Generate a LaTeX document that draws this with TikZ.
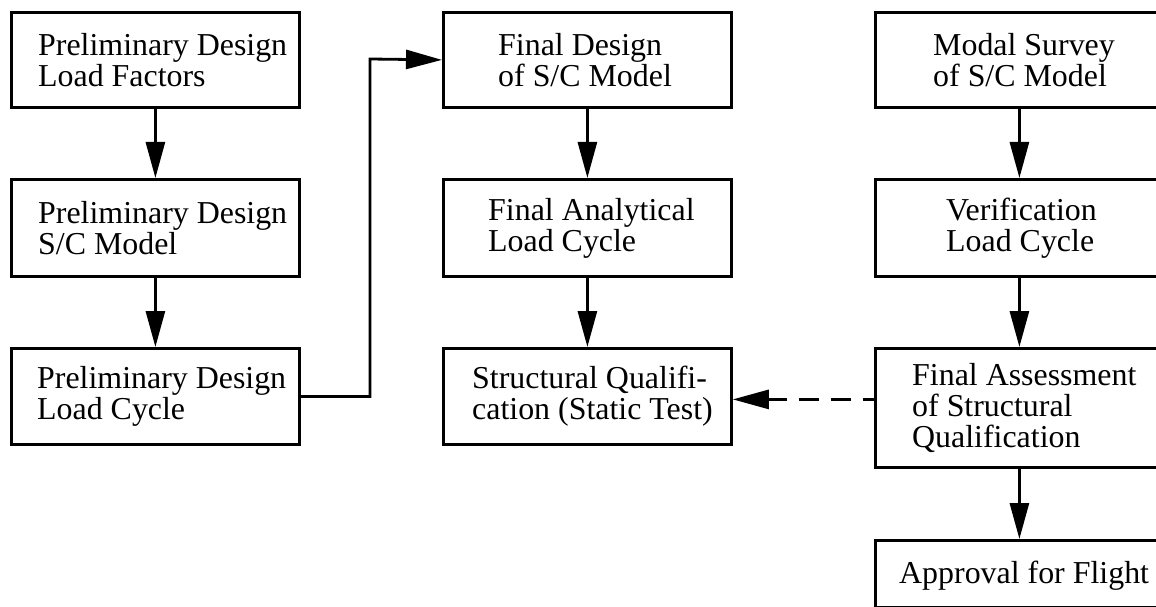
\documentclass[tikz,border=0pt]{standalone}
\usepackage{fontspec}
\setmainfont{Liberation Serif}
\usetikzlibrary{arrows.meta,calc}
\begin{document}
\begin{tikzpicture}[x=1pt,y=-1pt,
  box/.style={draw,line width=2.8pt,inner sep=0pt,minimum width=288pt,anchor=north west},
  txt/.style={anchor=west,align=left,inner sep=0pt,font=\fontsize{31.9}{31}\selectfont},
  arr/.style={line width=2.8pt,-{Triangle[length=36pt,width=19pt]}},
  dsh/.style={arr,dash pattern=on 20pt off 12pt,dash phase=9pt}]
\useasboundingbox (0,0) rectangle (1156,607);
\clip (0,0) rectangle (1156,607);
% boxes
\node[box,minimum height=95pt] (b1) at (10,11) {};
\node[box,minimum height=97pt] (b2) at (10,178) {};
\node[box,minimum height=96pt] (b3) at (10,347) {};
\node[box,minimum height=95pt] (m1) at (442,11) {};
\node[box,minimum height=97pt] (m2) at (442,178) {};
\node[box,minimum height=96pt] (m3) at (442,347) {};
\node[box,minimum height=95pt] (r1) at (874,11) {};
\node[box,minimum height=97pt] (r2) at (874,178) {};
\node[box,minimum height=119pt] (r3) at (874,347) {};
\node[box,minimum height=67pt] (r4) at (874,539) {};
% texts
\node[txt] (t1) at ([xshift=28pt]b1.west) {Preliminary Design\\Load Factors};
\node[txt] (t2) at ([xshift=28pt]b2.west) {Preliminary Design\\S/C Model};
\node[txt] (t3) at ([xshift=27pt]b3.west) {Preliminary Design\\Load Cycle};
\node[txt] (t4) at ([xshift=56pt]m1.west) {Final Design\\of S/C Model};
\node[txt] (t5) at ([xshift=46pt]m2.west) {Final Analytical\\Load Cycle};
\node[txt] (t6) at ([xshift=30pt]m3.west) {Structural Qualifi-\\cation (Static Test)};
\node[txt] (t7) at ([xshift=59pt]r1.west) {Modal Survey\\of S/C Model};
\node[txt] (t8) at ([xshift=72pt]r2.west) {Verification\\Load Cycle};
\node[txt] (t9) at ([xshift=38pt]r3.west) {Final Assessment\\of Structural\\Qualification};
\node[txt] (t10) at ([xshift=25pt,yshift=-2pt]r4.west) {Approval for Flight};
% connectors
\draw[arr] (b1.south) -- (b2.north);
\draw[arr] (b2.south) -- (b3.north);
\draw[arr] (m1.south) -- (m2.north);
\draw[arr] (m2.south) -- (m3.north);
\draw[arr] (r1.south) -- (r2.north);
\draw[arr] (r2.south) -- (r3.north);
\draw[arr] (r3.south) -- (r4.north);
\coordinate (j) at (370,59);
\draw[arr] (b3.east) -| (j) -- (m1.west);
\draw[dsh] ([yshift=-3pt]r3.west |- m3.east) -- ([yshift=-3pt]m3.east);
\end{tikzpicture}
\end{document}
